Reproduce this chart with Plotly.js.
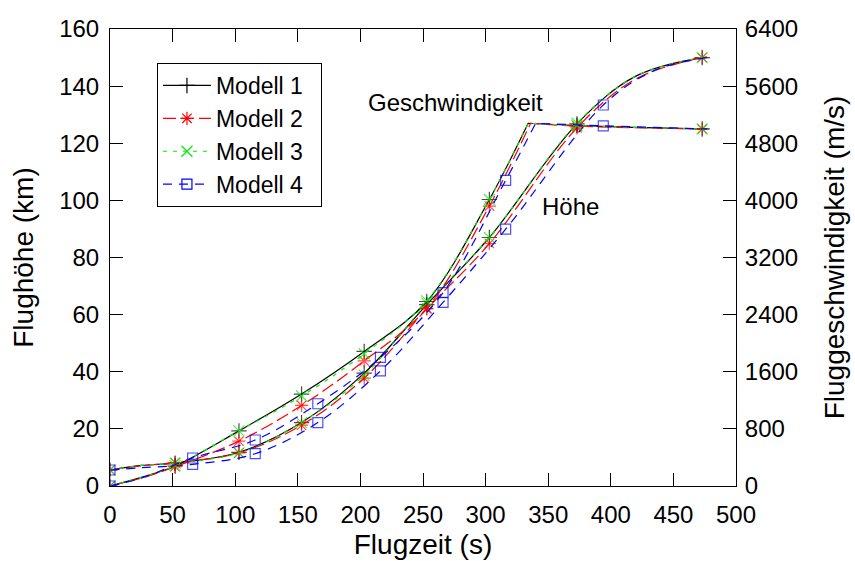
<!DOCTYPE html>
<html><head><meta charset="utf-8">
<script src="https://cdn.plot.ly/plotly-3.0.1.min.js"></script>
<style>body{margin:0;background:#fff}#chart{width:855px;height:561px}</style>
</head><body><div id="chart"></div>
<script>
// ---- data ----
const modelNames = ['Modell 1', 'Modell 2', 'Modell 3', 'Modell 4'];

// Model 1: velocity (m/s) and altitude (km) vs flight time (s); burnout point listed twice (kink)
const tVel1 = [0, 25, 52, 103, 153, 203, 253, 303, 334, 334, 373, 473, 477];
const vel1  = [0, 120, 280, 772, 1288, 1884, 2584, 4012, 5080, 5080, 5048, 5000, 5000];
const mkVel1 = [1, 0, 1, 1, 1, 1, 1, 1, 0, 0, 1, 1, 0];
const tAlt1 = [0, 25, 52, 103, 153, 203, 253, 303, 373, 420, 473, 477];
const alt1  = [5.6, 7.2, 8.0, 11.8, 22.2, 39.5, 63.5, 87.0, 126.8, 143.5, 150.0, 150.1];
const mkAlt1 = [1, 0, 1, 1, 1, 1, 1, 1, 1, 0, 1, 0];

// Model 2
const tVel2 = [0, 25, 52, 103, 153, 203, 253, 303, 336, 336, 373, 473, 477];
const vel2  = [0, 110, 270, 628, 1128, 1752, 2488, 3920, 5080, 5080, 5040, 5000, 5000];
const mkVel2 = [1, 0, 1, 1, 1, 1, 1, 1, 0, 0, 1, 1, 0];
const tAlt2 = [0, 25, 52, 103, 153, 203, 253, 303, 373, 420, 473, 477];
const alt2  = [5.6, 7.1, 8.2, 11.6, 21.3, 37.8, 62.0, 84.9, 125.4, 142.5, 150.0, 150.1];
const mkAlt2 = [1, 0, 1, 1, 1, 1, 1, 1, 1, 0, 1, 0];

// Model 3
const tVel3 = [0, 25, 52, 103, 153, 203, 253, 303, 334, 334, 373, 473, 477];
const vel3  = [0, 120, 285, 772, 1260, 1852, 2592, 4012, 5080, 5080, 5048, 5000, 5000];
const mkVel3 = [1, 0, 1, 1, 1, 1, 1, 1, 0, 0, 1, 1, 0];
const tAlt3 = [0, 25, 52, 103, 153, 203, 253, 303, 373, 420, 473, 477];
const alt3  = [5.6, 7.2, 8.0, 11.6, 22.2, 38.8, 64.0, 87.0, 127.0, 143.5, 150.0, 150.1];
const mkAlt3 = [1, 0, 1, 1, 1, 1, 1, 1, 1, 0, 1, 0];

// Model 4
const tVel4 = [0, 25, 66, 116, 166, 216, 266, 316, 340, 340, 394, 477];
const vel4  = [0, 110, 392, 644, 1152, 1800, 2708, 4280, 5080, 5080, 5044, 5000];
const mkVel4 = [1, 0, 1, 1, 1, 1, 1, 1, 0, 0, 1, 0];
const tAlt4 = [0, 25, 66, 116, 166, 216, 266, 316, 394, 435, 477];
const alt4  = [5.6, 6.4, 7.6, 11.3, 22.2, 40.3, 64.3, 89.9, 133.4, 145.5, 150.0];
const mkAlt4 = [1, 0, 1, 1, 1, 1, 1, 1, 1, 0, 0];

// Axis ticks
const xTicks = [0, 50, 100, 150, 200, 250, 300, 350, 400, 450, 500];
const yTicks = [0, 20, 40, 60, 80, 100, 120, 140, 160];
const y2Ticks = [0, 800, 1600, 2400, 3200, 4000, 4800, 5600, 6400];

// ---- styles ----
const styles = [
  {color: '#000000', dash: 'solid',      symbol: 'cross-thin-open', size: 11},
  {color: '#ff0000', dash: '13px,5px',   symbol: 'asterisk-open',   size: 11},
  {color: '#00ee00', dash: '4px,6px',    symbol: 'x-thin-open',     size: 11},
  {color: '#0000ff', dash: '9px,7px',    symbol: 'square-open',     size: 10}
];

const series = [
  {tv: tVel1, v: vel1, mv: mkVel1, ta: tAlt1, a: alt1, ma: mkAlt1},
  {tv: tVel2, v: vel2, mv: mkVel2, ta: tAlt2, a: alt2, ma: mkAlt2},
  {tv: tVel3, v: vel3, mv: mkVel3, ta: tAlt3, a: alt3, ma: mkAlt3},
  {tv: tVel4, v: vel4, mv: mkVel4, ta: tAlt4, a: alt4, ma: mkAlt4}
];

const traces = [];
series.forEach((s, i) => {
  const st = styles[i];
  const common = {
    type: 'scatter', mode: 'lines+markers', showlegend: false, legendgroup: 'm' + i,
    line: {color: st.color, width: 1.2, dash: st.dash, shape: 'spline', smoothing: 1, simplify: false},
    hoverinfo: 'skip'
  };
  traces.push(Object.assign({}, common, {
    x: s.tv, y: s.v, yaxis: 'y2',
    marker: {symbol: st.symbol, color: st.color, size: s.mv.map(m => m ? st.size : 0),
             line: {color: st.color, width: 1.2}}
  }));
  traces.push(Object.assign({}, common, {
    x: s.ta, y: s.a, yaxis: 'y',
    marker: {symbol: st.symbol, color: st.color, size: s.ma.map(m => m ? st.size : 0),
             line: {color: st.color, width: 1.2}}
  }));
});
// legend entries
modelNames.forEach((name, i) => {
  const st = styles[i];
  traces.push({
    type: 'scatter', mode: 'lines+markers', name: name + '\u00a0\u00a0', legendgroup: 'm' + i,
    x: [null], y: [null],
    line: {color: st.color, width: 1.2, dash: st.dash},
    marker: {symbol: st.symbol, color: st.color, size: st.size, line: {color: st.color, width: 1.2}}
  });
});

const axisCommon = {
  showgrid: false, zeroline: false, showline: true, linecolor: '#000', linewidth: 1,
  ticks: 'inside', ticklen: 13, tickwidth: 1, tickcolor: '#000',
  tickfont: {size: 24, color: '#000'}
};

const layout = {
  width: 855, height: 561,
  margin: {l: 110, r: 119, t: 29, b: 75, pad: 0},
  paper_bgcolor: '#fff', plot_bgcolor: '#fff',
  font: {family: '"Liberation Sans", Arial, sans-serif', size: 23, color: '#000'},
  showlegend: true,
  legend: {x: 0.075, y: 0.9256, xanchor: 'left', yanchor: 'top', bgcolor: '#fff',
           bordercolor: '#000', borderwidth: 1, font: {size: 23}, itemwidth: 48,
           traceorder: 'normal'},
  xaxis: Object.assign({}, axisCommon, {
    range: [0, 500], tickvals: xTicks, ticktext: xTicks.map(String), mirror: 'ticks',
    ticklabelstandoff: 7,
    title: {text: 'Flugzeit (s)', font: {size: 28}, standoff: 7}
  }),
  yaxis: Object.assign({}, axisCommon, {
    range: [0, 160], tickvals: yTicks, ticktext: yTicks.map(String), mirror: true,
    ticklabelstandoff: 5,
    title: {text: 'Flughöhe (km)', font: {size: 28}, standoff: 17}
  }),
  yaxis2: Object.assign({}, axisCommon, {
    range: [0, 6400], tickvals: y2Ticks, ticktext: y2Ticks.map(String),
    overlaying: 'y', side: 'right', anchor: 'x', ticklabelstandoff: 3,
    title: {text: 'Fluggeschwindigkeit (m/s)', font: {size: 28}, standoff: 27}
  }),
  annotations: [
    {text: 'Geschwindigkeit', x: 275.6, y: 134.1, xref: 'x', yref: 'y', showarrow: false, font: {size: 24}},
    {text: 'Höhe', x: 368.2, y: 97.7, xref: 'x', yref: 'y', showarrow: false, font: {size: 24}}
  ]
};

Plotly.newPlot('chart', traces, layout, {displayModeBar: false, staticPlot: true});
</script>
</body></html>
